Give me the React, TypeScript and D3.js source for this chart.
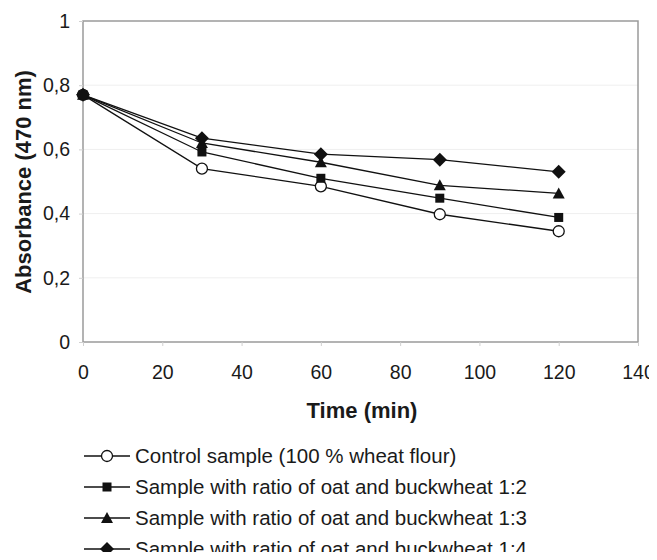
import React, { useEffect, useRef } from 'react';
import * as d3 from 'd3';

// time points (min)
const times = [0, 30, 60, 90, 120];

// absorbance at 470 nm per sample
const control = [0.77, 0.54, 0.485, 0.398, 0.345];
const ratio12 = [0.77, 0.592, 0.51, 0.448, 0.388];
const ratio13 = [0.77, 0.62, 0.56, 0.488, 0.463];
const ratio14 = [0.77, 0.635, 0.585, 0.568, 0.53];

const xTicks = [0, 20, 40, 60, 80, 100, 120, 140];
const yTicks = [0, 0.2, 0.4, 0.6, 0.8, 1];

const seriesNames = [
  'Control sample (100 % wheat flour)',
  'Sample with ratio of oat and buckwheat 1:2',
  'Sample with ratio of oat and buckwheat 1:3',
  'Sample with ratio of oat and buckwheat 1:4',
];
const seriesValues = [control, ratio12, ratio13, ratio14];
const seriesMarkers = ['circle', 'square', 'triangle', 'diamond'];

const App = () => {
  const svgRef = useRef<SVGSVGElement>(null);

  useEffect(() => {
    const svg = d3.select(svgRef.current);
    svg.selectAll('*').remove();

    const width = 657;
    const height = 560;
    const margin = { top: 21, right: 19, left: 83, bottom: 218 };
    const font = 'Liberation Sans, Arial, sans-serif';

    const x = d3.scaleLinear().domain([0, 140]).range([margin.left, width - margin.right]);
    const y = d3.scaleLinear().domain([0, 1]).range([height - margin.bottom, margin.top]);

    // gridlines
    svg
      .append('g')
      .selectAll('line')
      .data(yTicks.slice(1, -1))
      .enter()
      .append('line')
      .attr('x1', x(0))
      .attr('x2', x(140))
      .attr('y1', (d) => y(d))
      .attr('y2', (d) => y(d))
      .attr('stroke', '#efefef')
      .attr('stroke-width', 1);

    // plot frame
    svg
      .append('rect')
      .attr('x', x(0))
      .attr('y', y(1))
      .attr('width', x(140) - x(0))
      .attr('height', y(0) - y(1))
      .attr('fill', 'none')
      .attr('stroke', '#9a9a9a')
      .attr('stroke-width', 1.5);

    // x axis
    const xAxis = svg
      .append('g')
      .attr('transform', `translate(0, ${y(0)})`)
      .call(d3.axisBottom(x).tickValues(xTicks).tickSize(4).tickPadding(19).tickFormat(d3.format('d')));
    xAxis.select('.domain').remove();
    xAxis.selectAll('line').attr('stroke', '#d0d0d0');
    xAxis.selectAll('text').attr('font-family', font).attr('font-size', 19.5).attr('fill', '#1a1a1a');

    // y axis
    const yAxis = svg
      .append('g')
      .attr('transform', `translate(${x(0)}, 0)`)
      .call(
        d3
          .axisLeft(y)
          .tickValues(yTicks)
          .tickSize(4)
          .tickPadding(9)
          .tickFormat((d) => String(d).replace('.', ','))
      );
    yAxis.select('.domain').remove();
    yAxis.selectAll('line').attr('stroke', '#d0d0d0');
    yAxis.selectAll('text').attr('font-family', font).attr('font-size', 19.5).attr('fill', '#1a1a1a');

    // axis titles
    svg
      .append('text')
      .attr('x', 362)
      .attr('y', 418)
      .attr('text-anchor', 'middle')
      .attr('font-family', font)
      .attr('font-size', 22)
      .attr('font-weight', 'bold')
      .attr('fill', '#1a1a1a')
      .text('Time (min)');

    svg
      .append('text')
      .attr('transform', `translate(31, 182) rotate(-90)`)
      .attr('text-anchor', 'middle')
      .attr('font-family', font)
      .attr('font-size', 22)
      .attr('font-weight', 'bold')
      .attr('fill', '#1a1a1a')
      .text('Absorbance (470 nm)');

    const line = d3
      .line<number>()
      .x((d, i) => x(times[i]))
      .y((d) => y(d));

    const drawMarker = (g, kind, cx, cy) => {
      if (kind === 'circle') {
        g.append('circle').attr('cx', cx).attr('cy', cy).attr('r', 5.5).attr('fill', '#fff').attr('stroke', '#111').attr('stroke-width', 1.3);
      } else if (kind === 'square') {
        g.append('rect').attr('x', cx - 4.5).attr('y', cy - 4.5).attr('width', 9).attr('height', 9).attr('fill', '#111');
      } else if (kind === 'triangle') {
        g.append('path').attr('d', `M${cx},${cy - 6}L${cx + 6},${cy + 5}L${cx - 6},${cy + 5}Z`).attr('fill', '#111');
      } else {
        g.append('path').attr('d', `M${cx},${cy - 7}L${cx + 7},${cy}L${cx},${cy + 7}L${cx - 7},${cy}Z`).attr('fill', '#111');
      }
    };

    // series lines, then markers (filled markers end up over the open circle)
    seriesValues.forEach((vals) => {
      svg
        .append('path')
        .datum(vals)
        .attr('d', line)
        .attr('fill', 'none')
        .attr('stroke', '#111')
        .attr('stroke-width', 1.3);
    });
    seriesValues.forEach((vals, si) => {
      const g = svg.append('g');
      vals.forEach((v, i) => drawMarker(g, seriesMarkers[si], x(times[i]), y(v)));
    });

    // legend
    const legend = svg.append('g').attr('transform', 'translate(84, 456)');
    seriesNames.forEach((name, i) => {
      const row = legend.append('g').attr('transform', `translate(0, ${i * 31})`);
      row.append('line').attr('x1', 0).attr('x2', 46).attr('y1', 0).attr('y2', 0).attr('stroke', '#111').attr('stroke-width', 1.3);
      drawMarker(row, seriesMarkers[i], 23, 0);
      row
        .append('text')
        .attr('x', 51)
        .attr('y', 0)
        .attr('dy', '0.35em')
        .attr('font-family', font)
        .attr('font-size', 20.5)
        .attr('fill', '#1a1a1a')
        .text(name);
    });
  }, []);

  return <svg ref={svgRef} width={657} height={560} style={{ display: 'block', margin: '-8px' }} />;
};

export default App;
